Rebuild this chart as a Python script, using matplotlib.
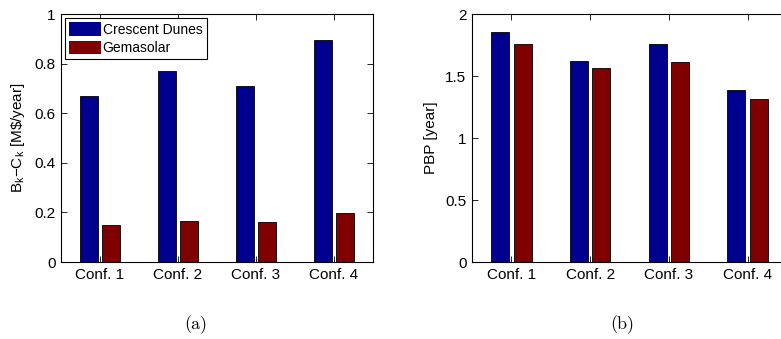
import matplotlib
matplotlib.use('Agg')
import matplotlib.pyplot as plt
import numpy as np

configs = ['Conf. 1', 'Conf. 2', 'Conf. 3', 'Conf. 4']
series = ['Crescent Dunes', 'Gemasolar']
benefit_crescent = [0.668, 0.772, 0.711, 0.895]
benefit_gemasolar = [0.148, 0.165, 0.160, 0.199]
pbp_crescent = [1.851, 1.625, 1.755, 1.389]
pbp_gemasolar = [1.758, 1.561, 1.615, 1.314]

blue = '#00008f'
red = '#800000'

plt.rcParams['font.family'] = ['Liberation Sans', 'DejaVu Sans']
plt.rcParams['font.size'] = 11
plt.rcParams['mathtext.fontset'] = 'custom'
plt.rcParams['mathtext.rm'] = 'Liberation Sans'
plt.rcParams['mathtext.it'] = 'Liberation Sans'

fig = plt.figure(figsize=(7.81, 3.39), dpi=100)
ax1 = fig.add_axes([61 / 781, 77 / 339, 312 / 781, 248 / 339])
ax2 = fig.add_axes([472 / 781, 77 / 339, 315 / 781, 248 / 339])

x = np.arange(1, len(configs) + 1)
w = 0.23
off = 0.143


def draw(ax, a, b, ylim, yticks, ylabel):
    ax.bar(x - off, a, w, color=blue, edgecolor='black', linewidth=0.6, label=series[0])
    ax.bar(x + off, b, w, color=red, edgecolor='black', linewidth=0.6, label=series[1])
    ax.set_xlim(0.5, 4.5)
    ax.set_ylim(*ylim)
    ax.set_xticks(x)
    ax.set_xticklabels(configs)
    ax.set_yticks(yticks)
    ax.set_yticklabels(['%g' % t for t in yticks])
    ax.tick_params(direction='in', top=True, right=True, length=4, width=0.6, pad=4)
    for s in ax.spines.values():
        s.set_linewidth(0.8)
    ax.set_ylabel(ylabel, labelpad=5)


draw(ax1, benefit_crescent, benefit_gemasolar, (0, 1), [0, 0.2, 0.4, 0.6, 0.8, 1],
     r'B$_\mathrm{k}$$-$C$_\mathrm{k}$ [M\$/year]')
draw(ax2, pbp_crescent, pbp_gemasolar, (0, 2), [0, 0.5, 1, 1.5, 2], 'PBP [year]')

leg = ax1.legend(loc='upper left', borderaxespad=0.3, fancybox=False, framealpha=1,
                 edgecolor='black', handlelength=2.3, handleheight=1.1,
                 handletextpad=0.1, borderpad=0.3, labelspacing=0.3, fontsize=10)
leg.get_frame().set_linewidth(0.8)
for h in leg.legend_handles:
    h.set_linewidth(0)

fig.text(196 / 781, 1 - 325 / 339, '(a)', ha='center', va='center', family='cmr10', fontsize=13)
fig.text(622 / 781, 1 - 325 / 339, '(b)', ha='center', va='center', family='cmr10', fontsize=13)

fig.savefig('out.png', dpi=100)
